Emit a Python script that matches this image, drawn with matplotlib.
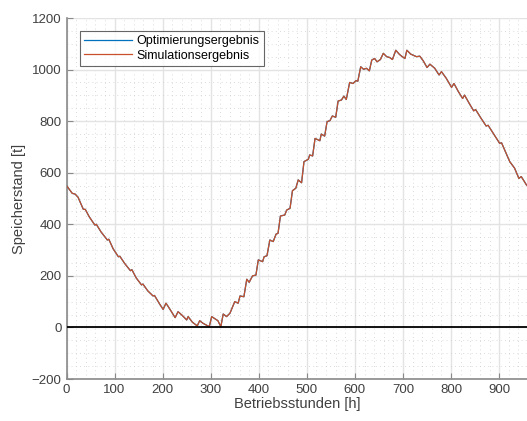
import numpy as np
import matplotlib.pyplot as plt
from matplotlib.ticker import MultipleLocator

# Speicherstand (hour, tonnes)
hours = [0, 12, 18, 24, 35, 39, 47, 59, 62, 72, 85, 88, 97, 108, 111, 121,
         133, 136, 145, 156, 159, 169, 180, 183, 194, 201, 207, 216, 226, 232,
         240, 250, 253, 262, 272, 277, 284, 297, 302, 315, 321, 326, 333, 340,
         350, 357, 361, 369, 375, 380, 387, 394, 399, 408, 411, 417, 423, 430,
         436, 440, 445, 454, 458, 465, 470, 477, 482, 489, 494, 503, 506, 512,
         517, 527, 530, 537, 542, 548, 553, 560, 565, 572, 577, 582, 589, 596,
         602, 606, 612, 618, 624, 630, 635, 641, 646, 653, 659, 666, 672, 678,
         685, 692, 697, 704, 708, 716, 722, 728, 735, 742, 750, 756, 766, 775,
         780, 790, 801, 806, 815, 824, 828, 838, 847, 851, 862, 873, 877, 888,
         901, 905, 922, 932, 941, 946, 957, 960]
speicher = [550, 520, 517, 505, 458, 458, 430, 397, 400, 370, 339, 342, 305, 274,
            276, 248, 220, 224, 192, 165, 168, 142, 122, 124, 90, 70, 94, 68, 38, 61,
            48, 29, 42, 20, 6, 26, 16, 3, 42, 26, 3, 52, 42, 55,
            100, 94, 122, 119, 187, 175, 200, 203, 262, 255, 274, 278, 339, 333,
            362, 365, 432, 436, 455, 462, 530, 540, 572, 561, 643, 652, 669, 665,
            733, 724, 750, 742, 798, 802, 820, 815, 878, 882, 897, 884, 950, 946,
            957, 955, 1011, 1001, 1005, 995, 1037, 1043, 1030, 1039, 1063, 1050, 1047, 1039,
            1075, 1060, 1052, 1043, 1075, 1060, 1055, 1050, 1052, 1034, 1008, 1021, 1005, 979,
            992, 966, 931, 946, 915, 888, 901, 868, 840, 845, 812, 781, 784, 752,
            714, 716, 643, 618, 578, 585, 552, 548]

x_ticks = np.arange(0, 901, 100)
y_ticks = np.arange(-200, 1201, 200)

plt.rcParams['font.family'] = ['Liberation Sans', 'DejaVu Sans']

fig = plt.figure(figsize=(5.27, 4.21), dpi=100)
ax = fig.add_axes([66.5 / 527, 42 / 421, 461.5 / 527, 361 / 421])

ax.plot(hours, speicher, color='#0072BD', lw=0.9, label='Optimierungsergebnis', zorder=3)
ax.plot(hours, speicher, color='#C8502A', lw=0.9, label='Simulationsergebnis', zorder=4)
ax.axhline(0, color='black', lw=1.3, zorder=5)

ax.set_xlim(0, 960)
ax.set_ylim(-200, 1200)
ax.set_xticks(x_ticks)
ax.set_yticks(y_ticks)
ax.xaxis.set_minor_locator(MultipleLocator(20))
ax.yaxis.set_minor_locator(MultipleLocator(50))

ax.grid(which='major', color='#e3e3e3', lw=1.0, zorder=0)
ax.grid(which='minor', color='#cfcfcf', lw=0.6, ls=(0, (1, 4)), zorder=0)
ax.set_axisbelow(True)

for side in ['top', 'right']:
    ax.spines[side].set_visible(False)
for side in ['left', 'bottom']:
    ax.spines[side].set_color('#8a8a8a')
    ax.spines[side].set_linewidth(1.2)

ax.tick_params(which='major', direction='in', length=4, colors='#8a8a8a',
               labelcolor='#404040', labelsize=9.5)
ax.tick_params(which='minor', length=0)

ax.set_xlabel('Betriebsstunden [h]', fontsize=10.5, color='#404040', labelpad=1)
ax.set_ylabel('Speicherstand [t]', fontsize=10.5, color='#404040', labelpad=4)

leg = ax.legend(loc='upper left', bbox_to_anchor=(0.029, 0.964), borderaxespad=0,
                fontsize=9, frameon=True, fancybox=False, handlelength=3.8,
                handletextpad=0.4, borderpad=0.35, labelspacing=0.2)
leg.get_frame().set_edgecolor('#404040')
leg.get_frame().set_linewidth(0.8)

fig.savefig('out.png', dpi=100)
